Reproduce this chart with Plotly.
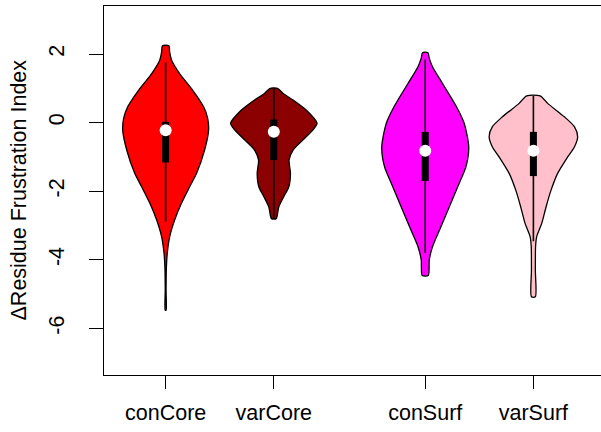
import plotly.graph_objects as go

# Group names and their positions along the x axis
groups = ["conCore", "varCore", "conSurf", "varSurf"]
positions = [1.0, 2.0, 3.4, 4.4]
fill_colors = ["#FF0000", "#8B0000", "#FF00FF", "#FFC0CB"]

# Density outlines: value levels and half-widths (x units) for each group
con_core_y = [2.24, 2.06, 1.82, 1.43, 0.95, 0.46, 0.13, -0.22, -0.80, -1.48,
              -1.87, -2.36, -2.84, -3.33, -3.81, -4.30, -4.90, -5.47]
con_core_w = [0.030, 0.037, 0.055, 0.129, 0.249, 0.351, 0.388, 0.397, 0.360,
              0.286, 0.222, 0.145, 0.083, 0.037, 0.015, 0.006, 0.004, 0.004]

var_core_y = [1.00, 0.85, 0.66, 0.36, -0.02, -0.22, -0.51, -0.80, -1.09,
              -1.48, -1.87, -2.16, -2.46, -2.80]
var_core_w = [0.034, 0.086, 0.178, 0.302, 0.400, 0.360, 0.268, 0.178, 0.141,
              0.154, 0.139, 0.092, 0.046, 0.022]

con_surf_y = [2.04, 1.88, 1.63, 1.14, 0.46, -0.02, -0.71, -1.29, -1.77,
              -2.46, -3.04, -3.62, -4.01, -4.46]
con_surf_w = [0.025, 0.037, 0.067, 0.160, 0.289, 0.360, 0.402, 0.376, 0.314,
              0.222, 0.145, 0.067, 0.037, 0.028]

var_surf_y = [0.78, 0.56, 0.17, -0.12, -0.41, -0.71, -1.00, -1.48, -1.97,
              -2.46, -2.94, -3.33, -3.62, -4.30, -5.08]
var_surf_w = [0.062, 0.132, 0.286, 0.379, 0.409, 0.379, 0.317, 0.224, 0.163,
              0.117, 0.077, 0.030, 0.020, 0.018, 0.018]

# Box summaries
q1 = [-1.16, -1.09, -1.70, -1.56]
q3 = [0.02, 0.09, -0.27, -0.27]
medians = [-0.22, -0.27, -0.82, -0.82]
whisker_low = [-2.89, -2.80, -3.80, -3.46]
whisker_high = [1.75, 1.00, 1.84, 0.78]

# Axis ticks and title
y_ticks = [-6, -4, -2, 0, 2]
y_tick_text = ["-6", "-4", "-2", "0", "2"]
y_title = "ΔResidue Frustration Index"

profiles = [(con_core_y, con_core_w), (var_core_y, var_core_w),
            (con_surf_y, con_surf_w), (var_surf_y, var_surf_w)]

FONT = "Liberation Sans, Arial, Helvetica, sans-serif"
FONT_SIZE = 21.5

fig = go.Figure()

for pos, color, (ys, ws) in zip(positions, fill_colors, profiles):
    # right side from bottom to top, then left side from top to bottom
    right_x = [pos + w for w in reversed(ws)]
    right_y = list(reversed(ys))
    left_x = [pos - w for w in ws]
    left_y = list(ys)
    fig.add_trace(go.Scatter(
        x=right_x + left_x + [right_x[0]],
        y=right_y + left_y + [right_y[0]],
        mode="lines",
        line=dict(color="black", width=1.3, shape="spline", smoothing=0.7),
        fill="toself",
        fillcolor=color,
        hoverinfo="skip",
        showlegend=False,
    ))

# whisker lines, boxes and median dots drawn on top of the violins
for i, pos in enumerate(positions):
    fig.add_trace(go.Scatter(
        x=[pos, pos],
        y=[whisker_low[i], whisker_high[i]],
        mode="lines",
        line=dict(color="black", width=1.6),
        hoverinfo="skip",
        showlegend=False,
    ))
    fig.add_trace(go.Scatter(
        x=[pos, pos],
        y=[q1[i], q3[i]],
        mode="lines",
        line=dict(color="black", width=7),
        hoverinfo="skip",
        showlegend=False,
    ))

fig.add_trace(go.Scatter(
    x=positions,
    y=medians,
    mode="markers",
    marker=dict(color="white", size=12, line=dict(width=0)),
    hoverinfo="skip",
    showlegend=False,
))

# rotated y-axis title placed in the left margin
fig.add_annotation(
    text=y_title,
    xref="paper", yref="paper",
    x=0, y=0.5,
    xshift=-86,
    xanchor="center", yanchor="middle",
    textangle=-90,
    showarrow=False,
    font=dict(family=FONT, size=FONT_SIZE, color="black"),
)

fig.update_layout(
    width=601,
    height=432,
    margin=dict(l=104, r=0, t=6, b=57),
    paper_bgcolor="white",
    plot_bgcolor="white",
    font=dict(family=FONT, size=FONT_SIZE, color="black"),
    xaxis=dict(
        range=[0.43, 5.025],
        tickvals=positions,
        ticktext=groups,
        showgrid=False,
        zeroline=False,
        showline=True,
        mirror=True,
        linecolor="black",
        linewidth=1.3,
        ticks="outside",
        ticklen=13,
        tickwidth=1.3,
        tickcolor="black",
        ticklabelstandoff=5,
        tickfont=dict(family=FONT, size=FONT_SIZE),
    ),
    yaxis=dict(
        range=[-7.36, 3.40],
        tickvals=y_ticks,
        ticktext=y_tick_text,
        tickangle=-90,
        showgrid=False,
        zeroline=False,
        showline=True,
        linecolor="black",
        linewidth=1.3,
        ticks="outside",
        ticklen=14,
        tickwidth=1.3,
        tickcolor="black",
        ticklabelstandoff=16,
        tickfont=dict(family=FONT, size=FONT_SIZE),
    ),
)

fig.write_html("out.html")
